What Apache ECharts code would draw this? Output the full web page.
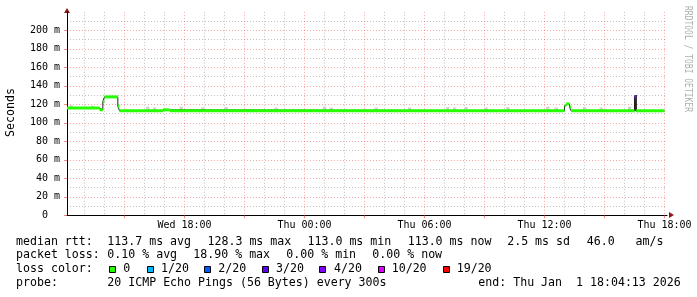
<!DOCTYPE html>
<html><head><meta charset="utf-8">
<script src="https://cdn.jsdelivr.net/npm/echarts@6/dist/echarts.min.js"></script>
<style>html,body{margin:0;padding:0;background:#fff}#c{width:697px;height:297px}</style>
</head><body><div id="c"></div>
<script>
// ---- data (x in hours since Wed 00:00, y in ms) ----
const STEP = 5 / 60;
const xMin = 12.125, xMax = 42.125;
const dataEnd = 42.0;
const majorHours = [15, 18, 21, 24, 27, 30, 33, 36, 39, 42];
const minorHours = [13, 14, 16, 17, 19, 20, 22, 23, 25, 26, 28, 29, 31, 32, 34, 35, 37, 38, 40, 41];
const labelHours = [18, 24, 30, 36, 42];
const labelTexts = ['Wed 18:00', 'Thu 00:00', 'Thu 06:00', 'Thu 12:00', 'Thu 18:00'];
const yMajor = [0, 20, 40, 60, 80, 100, 120, 140, 160, 180, 200];
const yMinor = [10, 30, 50, 70, 90, 110, 130, 150, 170, 190, 210];

const medianStart = [12.125, 13.75, 13.917, 14.0, 14.667, 14.75, 16.917, 17.25, 37.0, 37.083, 37.25, 37.333, 40.5, 40.583];
const medianValue = [116, 114, 123, 128, 118, 113, 114, 113, 118.5, 120.5, 117, 113, 128.3, 113];
const medianLoss  = [0, 0, 0, 0, 0, 0, 0, 0, 0, 0, 0, 0, 4, 0];

const smokeStart = [12.25, 13.33, 16.08, 16.42, 17.75, 18.83, 20.0, 22.5, 24.92, 25.25, 27.5, 29.17, 31.08, 31.42, 32.0, 33.0, 34.08, 36.08, 36.5, 37.92, 38.75, 40.17];
const smokeHigh  = [119, 118.5, 117.5, 116.5, 117.5, 116.5, 117, 116.5, 117.5, 116.5, 116.5, 116.5, 117, 116.5, 117, 116.5, 117, 117.5, 116.5, 117, 116.5, 117.5];
const darkSmokeStart = [40.5];
const darkSmokeLow = [112.5];
const darkSmokeHigh = [130];

const lossNames = ['0', '1/20', '2/20', '3/20', '4/20', '10/20', '19/20'];
const lossColors = ['#26ff00', '#00b8ff', '#0059ff', '#5e00ff', '#7e00ff', '#dd00ff', '#ff0000'];

const statRow1 = ['median rtt:', '113.7 ms avg', '128.3 ms max', '113.0 ms min', '113.0 ms now', '2.5 ms sd', '46.0   am/s'];
const statRow2 = ['packet loss:', '0.10 % avg', '18.90 % max', '0.00 % min', '0.00 % now'];
const row3Title = 'loss color:';
const statRow4 = ['probe:', '20 ICMP Echo Pings (56 Bytes) every 300s', 'end: Thu Jan  1 18:04:13 2026'];

// ---- layout (styles/positions) ----
const row1X = [16, 107.3, 207.5, 307.5, 407.7, 507.2, 586.7];
const row2X = [16, 107.3, 193.3, 286.3, 372.3];
const row4X = [16, 107.3, 478.3];
const sqX = [109, 147, 204, 262, 319, 378, 443];
const sqLabelX = [123.3, 161, 218.3, 276, 334, 391.7, 456.7];
const rowY = [241.5, 255.3, 269.3, 283.2];
const MONO = "'DejaVu Sans Mono', monospace";
const LFS = 11.6;

const chart = echarts.init(document.getElementById('c'), null, {renderer: 'canvas'});

const bandData = medianStart.map((s, i) => [s, i + 1 < medianStart.length ? medianStart[i + 1] : dataEnd, medianValue[i], medianLoss[i]]);
const lineData = medianStart.map((s, i) => [s, medianValue[i]]);
lineData.push([dataEnd, medianValue[medianValue.length - 1]]);
const smokeData = smokeStart.map((s, i) => {
  let m = medianValue[0];
  for (let k = 0; k < medianStart.length; k++) if (medianStart[k] <= s) m = medianValue[k];
  return [s, s + 2 * STEP, m, smokeHigh[i]];
});
const darkData = darkSmokeStart.map((s, i) => [s, s + 1.5 * STEP, darkSmokeLow[i], darkSmokeHigh[i]]);

function rangeRect(color) {
  return function (params, api) {
    const p0 = api.coord([api.value(0), api.value(3)]);
    const p1 = api.coord([api.value(1), api.value(2)]);
    return {type: 'rect', shape: {x: p0[0], y: p0[1], width: p1[0] - p0[0], height: p1[1] - p0[1]}, style: {fill: color}};
  };
}

const MAJ = 'rgba(240,60,60,0.45)';
const MIN = 'rgba(120,120,120,0.45)';

const graphics = [];
function txt(t, x, y, opts) {
  graphics.push(Object.assign({
    type: 'text', x: x, y: y, silent: true,
    style: {text: t, fontFamily: MONO, fontSize: LFS, fill: '#000', align: 'left', verticalAlign: 'middle', textAlign: 'left', textVerticalAlign: 'middle'}
  }, opts || {}));
}
statRow1.forEach((t, i) => txt(t, row1X[i], rowY[0]));
statRow2.forEach((t, i) => txt(t, row2X[i], rowY[1]));
txt(row3Title, 16, rowY[2]);
lossNames.forEach((t, i) => {
  graphics.push({type: 'rect', silent: true, shape: {x: sqX[i] + 0.5, y: 266.5, width: 6, height: 6}, style: {fill: lossColors[i], stroke: '#000', lineWidth: 1}});
  txt(t, sqLabelX[i], rowY[2]);
});
statRow4.forEach((t, i) => txt(t, row4X[i], rowY[3]));
txt('Seconds', 10.5, 112.5, {rotation: Math.PI / 2, style: {text: 'Seconds', fontFamily: MONO, fontSize: LFS, fill: '#000', align: 'center', verticalAlign: 'middle', textAlign: 'center', textVerticalAlign: 'middle'}});
txt('RRDTOOL / TOBI OETIKER', 688, 59, {rotation: -Math.PI / 2, scaleY: 1.3, style: {text: 'RRDTOOL / TOBI OETIKER', fontFamily: MONO, fontSize: 8, fill: '#b0b0b0', align: 'center', verticalAlign: 'middle', textAlign: 'center', textVerticalAlign: 'middle'}});
graphics.push({type: 'polygon', silent: true, shape: {points: [[64, 13], [70, 13], [67, 8]]}, style: {fill: '#8b1a1a'}});
graphics.push({type: 'polygon', silent: true, shape: {points: [[669, 212], [669, 218], [674, 215]]}, style: {fill: '#8b1a1a'}});

const option = {
  animation: false,
  backgroundColor: '#fff',
  grid: {left: 67, top: 11.8, width: 600, height: 203.5, containLabel: false},
  xAxis: [{
    type: 'value', min: xMin, max: xMax,
    axisLine: {show: true, onZero: false, lineStyle: {color: '#000', width: 1}},
    axisTick: {show: true, customValues: majorHours, length: 3, lineStyle: {color: 'rgba(240,60,60,0.6)'}},
    axisLabel: {customValues: labelHours, formatter: v => labelTexts[labelHours.indexOf(v)], fontFamily: MONO, fontSize: 10, color: '#000', margin: 5},
    splitLine: {show: true, lineStyle: {color: MAJ, type: [1, 2], width: 1}}
  }, {
    type: 'value', min: xMin, max: xMax,
    axisLine: {show: false}, axisLabel: {show: false},
    axisTick: {show: false, customValues: minorHours},
    splitLine: {show: true, lineStyle: {color: MIN, type: [1, 2], width: 1}}
  }],
  yAxis: [{
    type: 'value', min: 0, max: 220, interval: 20,
    axisLine: {show: true, onZero: false, lineStyle: {color: '#000', width: 1}},
    axisTick: {show: true, customValues: yMajor, length: 3, lineStyle: {color: 'rgba(240,60,60,0.6)'}},
    axisLabel: {customValues: yMajor, formatter: v => (v === 0 ? '0  ' : v + ' m'), fontFamily: MONO, fontSize: 10, color: '#000', margin: 7},
    splitLine: {show: true, lineStyle: {color: MAJ, type: [1, 2], width: 1}}
  }, {
    type: 'value', min: 0, max: 220, interval: 10,
    axisLine: {show: false}, axisLabel: {show: false},
    axisTick: {show: false, customValues: yMinor},
    splitLine: {show: true, lineStyle: {color: MIN, type: [1, 2], width: 1}}
  }],
  series: [
    {type: 'custom', name: 'smoke', xAxisIndex: 0, yAxisIndex: 0, silent: true, renderItem: rangeRect('#d0d0d0'), data: smokeData, encode: {x: [0, 1], y: [2, 3]}, z: 2},
    {type: 'custom', name: 'smokeDark', xAxisIndex: 0, yAxisIndex: 0, silent: true, renderItem: rangeRect('#3a3a3a'), data: darkData, encode: {x: [0, 1], y: [2, 3]}, z: 3},
    {type: 'line', name: 'median', xAxisIndex: 0, yAxisIndex: 0, step: 'end', silent: true, symbol: 'none', data: lineData, lineStyle: {color: '#202020', width: 1}, z: 4},
    {type: 'custom', name: 'loss', xAxisIndex: 0, yAxisIndex: 0, silent: true, data: bandData, encode: {x: [0, 1], y: 2}, z: 5,
      renderItem: function (params, api) {
        const p0 = api.coord([api.value(0), api.value(2)]);
        const p1 = api.coord([api.value(1), api.value(2)]);
        return {type: 'rect', shape: {x: p0[0], y: p0[1] - 1.5, width: p1[0] - p0[0], height: 3}, style: {fill: lossColors[api.value(3)]}};
      }}
  ],
  graphic: graphics
};
chart.setOption(option);
</script>
</body></html>
